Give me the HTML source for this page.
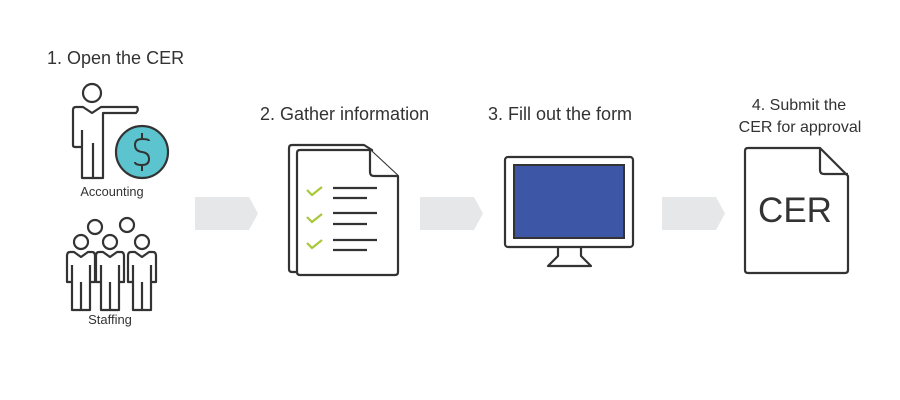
<!DOCTYPE html>
<html><head><meta charset="utf-8"><style>
html,body{margin:0;padding:0;background:#fff;width:900px;height:400px;overflow:hidden}
svg{display:block}
text{font-family:"Liberation Sans",sans-serif;fill:#333}
</style></head><body>
<svg width="900" height="400" viewBox="0 0 900 400" xmlns="http://www.w3.org/2000/svg">
<g font-size="18">
<text x="47" y="64">1. Open the CER</text>
<text x="260" y="120">2. Gather information</text>
<text x="488" y="120">3. Fill out the form</text>
</g>
<g font-size="16">
<text x="799" y="110" text-anchor="middle">4. Submit the</text>
<text x="800" y="132" text-anchor="middle">CER for approval</text>
</g>
<g fill="#e6e7e8">
<path d="M195 197H249L258 213.5L249 230H195Z"/>
<path d="M420 197H474L483 213.5L474 230H420Z"/>
<path d="M662 197H716L725 213.5L716 230H662Z"/>
</g>
<g fill="none" stroke="#333" stroke-width="2.2" stroke-linejoin="round">
<circle cx="92" cy="93" r="9"/>
<path d="M82 147V178H103V113H136Q139 110 137 107H101L92 113L83 107H76Q73 107 73 110V145Q73 147 75 147H82"/>
<path d="M82 130V147M93 143V178"/>
</g>
<circle cx="142" cy="152" r="26" fill="#5bc4cf" stroke="#333" stroke-width="2.2"/>
<path d="M142 133V139M149 141Q149 139 142 139Q135 139 135 145Q135 151 142 152Q149 153 149 159Q149 165 142 165Q135 165 135 162M142 165V171" fill="none" stroke="#333" stroke-width="2"/>
<text x="112" y="196" font-size="12.8" text-anchor="middle">Accounting</text>
<g fill="#fff" stroke="#333" stroke-width="2.2" stroke-linejoin="round">
<circle cx="95" cy="227" r="7"/><circle cx="127" cy="225" r="7"/>
<circle cx="81" cy="242" r="7"/><circle cx="110" cy="242" r="7"/><circle cx="142" cy="242" r="7"/>
<g id="p"><path d="M72 282V310H90V282H95V256Q95 252 92 252H88L81 257L74 252H70Q67 252 67 256V282Z"/><path d="M72 265V282M81 282V310M90 265V282"/></g>
<use href="#p" x="29"/>
<use href="#p" x="61"/>
</g>
<text x="110" y="324" font-size="13" text-anchor="middle">Staffing</text>
<g fill="#fff" stroke="#333" stroke-width="2.2" stroke-linejoin="round">
<path d="M289 148Q289 145 292 145H364L372 150V270Q372 272 369 272H292Q289 272 289 269Z"/>
<path d="M297 153Q297 150 300 150H370L398 176V272Q398 275 395 275H300Q297 275 297 272Z"/>
<path d="M370 150V172Q370 176 374 176H398"/>
</g>
<g stroke="#333" stroke-width="2.2">
<path d="M333 188H377M333 198H367M333 213H377M333 224H367M333 240H377M333 250H367"/>
</g>
<g fill="none" stroke="#a8c83a" stroke-width="2.2">
<path d="M307 190L312 195L322 187M307 217L312 222L322 214M307 243L312 248L322 240"/>
</g>
<rect x="505" y="157" width="128" height="90" rx="3" fill="#fff" stroke="#333" stroke-width="2.2"/>
<rect x="514" y="165" width="110" height="73" fill="#3d56a6" stroke="#333" stroke-width="2"/>
<path d="M558 247V256L548 266H591L581 256V247" fill="none" stroke="#333" stroke-width="2.2" stroke-linejoin="round"/>
<path d="M745 151Q745 148 748 148H820L848 176V270Q848 273 845 273H748Q745 273 745 270Z" fill="#fff" stroke="#333" stroke-width="2.2" stroke-linejoin="round"/>
<path d="M820 148V170Q820 174 824 174H848" fill="none" stroke="#333" stroke-width="2.2"/>
<text x="795" y="222" font-size="35" text-anchor="middle">CER</text>
</svg>
</body></html>
